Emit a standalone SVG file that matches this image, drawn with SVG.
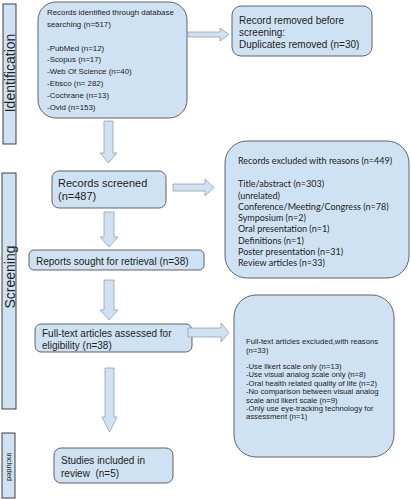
<svg xmlns="http://www.w3.org/2000/svg" width="411" height="499" viewBox="0 0 411 499">
<style>
.bx{fill:#cfe2f3;stroke:#5f6368;stroke-width:1}
.bar{fill:#cfe2f3;stroke:#3c4043;stroke-width:1}
.ar{fill:#cfe2f3;stroke:#9aa0a6;stroke-width:0.8}
text{font-family:"Liberation Sans",Arial,sans-serif;fill:#222}
.t8{font-size:7.9px}
.t10{font-size:10px}
.t11{font-size:11px}
.tc{font-family:Lato,"Liberation Sans",sans-serif;font-size:9px}
.t7{font-size:7.7px}
.stage{font-size:14px}
</style>
<rect width="411" height="499" fill="#fff"/>
<g id="stage-identification">
<rect class="bar" x="3" y="4" width="13" height="140"/>
<text class="stage" text-anchor="middle" transform="translate(14.5,73) rotate(-90)">Identification</text>
</g>
<g id="stage-screening">
<rect class="bar" x="2" y="173" width="14" height="236"/>
<text class="stage" text-anchor="middle" transform="translate(14.5,277) rotate(-90)">Screening</text>
</g>
<g id="stage-included">
<rect class="bar" x="2" y="433" width="13" height="65"/>
<text text-anchor="middle" style="font-size:7.5px" transform="translate(6.5,467) rotate(90)">included</text>
</g>
<g id="records-identified">
<rect class="bx" x="38" y="2" width="149" height="116" rx="18"/>
<text class="t8"><tspan x="47" y="15.2">Records identified through database</tspan><tspan x="47" y="27">searching (n=517)</tspan><tspan x="47" y="50.6">-PubMed (n=12)</tspan><tspan x="47" y="62.4">-Scopus (n=17)</tspan><tspan x="47" y="74.2">-Web Of Science (n=40)</tspan><tspan x="47" y="86">-Ebsco (n= 282)</tspan><tspan x="47" y="97.8">-Cochrane (n=13)</tspan><tspan x="47" y="109.6">-Ovid (n=153)</tspan></text>
</g>
<g id="records-removed">
<rect class="bx" x="232" y="6" width="140" height="50" rx="9"/>
<text class="t10"><tspan x="239" y="23.5">Record removed before</tspan><tspan x="239" y="35.5">screening:</tspan><tspan x="239" y="47.5">Duplicates removed (n=30)</tspan></text>
</g>
<g id="records-screened">
<rect class="bx" x="52" y="171" width="114" height="37" rx="7"/>
<text class="t11"><tspan x="58" y="187">Records screened</tspan><tspan x="58" y="200">(n=487)</tspan></text>
</g>
<g id="records-excluded">
<rect class="bx" x="225" y="141" width="184" height="137" rx="22"/>
<text class="tc"><tspan x="238" y="164.2">Records excluded with reasons (n=449)</tspan><tspan x="238" y="187.2">Title/abstract (n=303)</tspan><tspan x="238" y="198.5">(unrelated)</tspan><tspan x="238" y="209.8">Conference/Meeting/Congress (n=78)</tspan><tspan x="238" y="221.1">Symposium (n=2)</tspan><tspan x="238" y="232.4">Oral presentation (n=1)</tspan><tspan x="238" y="243.7">Definitions (n=1)</tspan><tspan x="238" y="255">Poster presentation (n=31)</tspan><tspan x="238" y="266.3">Review articles (n=33)</tspan></text>
</g>
<g id="reports-sought">
<rect class="bx" x="29" y="250" width="175" height="20" rx="5"/>
<text class="t10" x="36" y="264.5">Reports sought for retrieval (n=38)</text>
</g>
<g id="fulltext-assessed">
<rect class="bx" x="35" y="324" width="157" height="28" rx="6"/>
<text class="t10"><tspan x="42" y="336.5">Full-text articles assessed for</tspan><tspan x="42" y="348.5">eligibility (n=38)</tspan></text>
</g>
<g id="fulltext-excluded">
<rect class="bx" x="234" y="295" width="160" height="162" rx="22"/>
<text class="t7"><tspan x="246" y="344">Full-text articles excluded,with reasons</tspan><tspan x="246" y="352.5">(n=33)</tspan><tspan x="246" y="369">-Use likert scale only (n=13)</tspan><tspan x="246" y="377.4">-Use visual analog scale only (n=8)</tspan><tspan x="246" y="385.8">-Oral health related quality of life (n=2)</tspan><tspan x="246" y="394.2">-No comparison between visual analog</tspan><tspan x="246" y="402.6">scale and likert scale (n=9)</tspan><tspan x="246" y="411">-Only use eye-tracking technology for</tspan><tspan x="246" y="419.4">assessment (n=1)</tspan></text>
</g>
<g id="studies-included">
<rect class="bx" x="54" y="448" width="119" height="35" rx="7"/>
<text class="t10" style="white-space:pre"><tspan x="61" y="463.5">Studies included in</tspan><tspan x="61" y="476.5">review  (n=5)</tspan></text>
</g>
<g id="connectors">
<polygon class="ar" points="188,32 220,32 220,28 229,34.5 220,41 220,37 188,37"/>
<polygon class="ar" points="104,121 113,121 113,153 117,153 108.5,163 100,153 104,153"/>
<polygon class="ar" points="173,184 205,184 205,179 214,187.5 205,196 205,191 173,191"/>
<polygon class="ar" points="104,212 114,212 114,237 118,237 109,247 100,237 104,237"/>
<polygon class="ar" points="104,280 114,280 114,310 118,310 109,320 100,310 104,310"/>
<polygon class="ar" points="188,328 221,328 221,323 229,332.5 221,342 221,337 188,337"/>
<polygon class="ar" points="105,368 114,368 114,417 117,417 109.5,432 102,417 105,417"/>
</g>
</svg>
